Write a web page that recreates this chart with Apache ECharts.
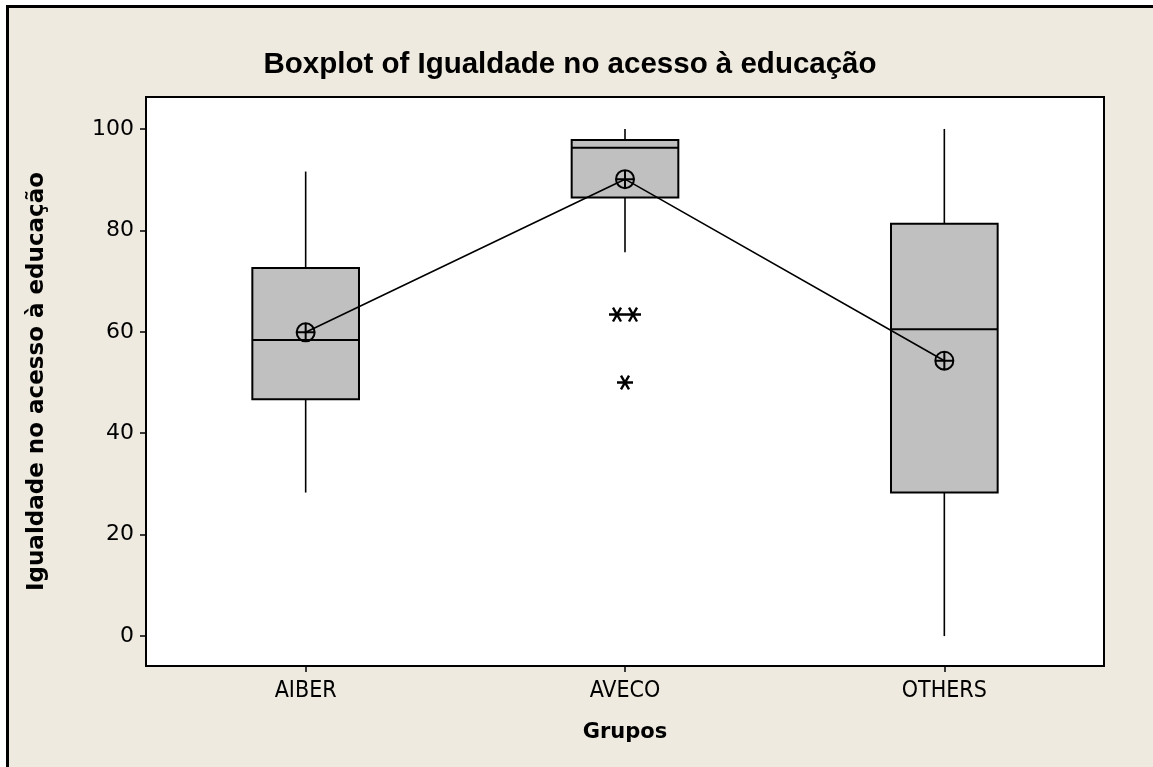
<!DOCTYPE html>
<html>
<head>
<meta charset="utf-8">
<script src="https://cdn.jsdelivr.net/npm/echarts@6/dist/echarts.min.js"></script>
<style>
html,body{margin:0;padding:0;background:#ffffff;}
#chart{width:1153px;height:767px;}
</style>
</head>
<body>
<div id="chart"></div>
<script>
const categories = ['AIBER', 'AVECO', 'OTHERS'];
const whiskerLow  = [28.3, 75.7, 0.0];
const q1          = [46.7, 86.5, 28.3];
const median      = [58.4, 96.3, 60.5];
const q3          = [72.6, 97.8, 81.3];
const whiskerHigh = [91.6, 100.0, 100.0];
const means       = [59.9, 90.1, 54.3];
const outlierGroup  = [1, 1, 1];
const outlierValues = [63.4, 63.4, 50.0];
const outlierShift  = [-8, 8, 0];
const yTicks = [0, 20, 40, 60, 80, 100];

const boxData = categories.map((c, i) => [i, whiskerLow[i], q1[i], median[i], q3[i], whiskerHigh[i]]);

function renderBox(params, api) {
  const x = api.value(0);
  const pLow = api.coord([x, api.value(1)]);
  const pQ1 = api.coord([x, api.value(2)]);
  const pMed = api.coord([x, api.value(3)]);
  const pQ3 = api.coord([x, api.value(4)]);
  const pHigh = api.coord([x, api.value(5)]);
  const bw = api.size([1, 0])[0] * 0.334;
  const cx = pMed[0];
  const lineStyle = {stroke: '#000', lineWidth: 1.6, fill: null};
  return {
    type: 'group',
    children: [
      {type: 'line', shape: {x1: cx, y1: pHigh[1], x2: cx, y2: pQ3[1]}, style: lineStyle},
      {type: 'line', shape: {x1: cx, y1: pQ1[1], x2: cx, y2: pLow[1]}, style: lineStyle},
      {type: 'rect', shape: {x: cx - bw / 2, y: pQ3[1], width: bw, height: pQ1[1] - pQ3[1]},
        style: {fill: '#C0C0C0', stroke: '#000', lineWidth: 2}},
      {type: 'line', shape: {x1: cx - bw / 2, y1: pMed[1], x2: cx + bw / 2, y2: pMed[1]},
        style: {stroke: '#000', lineWidth: 2}}
    ]
  };
}

const chart = echarts.init(document.getElementById('chart'), null, {renderer: 'canvas'});
chart.setOption({
  backgroundColor: '#ffffff',
  animation: false,
  graphic: [{
    type: 'rect', z: -10, silent: true,
    shape: {x: 7.5, y: 6.5, width: 1200, height: 800},
    style: {fill: '#EEEAE0', stroke: '#000', lineWidth: 3}
  }],
  title: {
    text: 'Boxplot of Igualdade no acesso à educação',
    left: 565, top: 45, textAlign: 'center',
    textStyle: {fontFamily: 'Liberation Sans', fontWeight: 'bold', fontSize: 29.5, color: '#000'}
  },
  grid: {
    left: 146, top: 97, right: 49, bottom: 101,
    show: true, backgroundColor: '#ffffff', borderColor: '#000', borderWidth: 2
  },
  xAxis: {
    type: 'category', data: categories, boundaryGap: true,
    axisLine: {show: false, onZero: false},
    axisTick: {show: true, alignWithLabel: true, length: 6, lineStyle: {color: '#000', width: 1.5}},
    axisLabel: {margin: 14, color: '#000', fontFamily: "'DejaVu Sans Condensed', 'Liberation Sans'", fontSize: 23},
    splitLine: {show: false},
    name: 'Grupos', nameLocation: 'middle', nameGap: 56,
    nameTextStyle: {fontFamily: 'DejaVu Sans', fontWeight: 'bold', fontSize: 21, color: '#000'}
  },
  yAxis: {
    type: 'value', min: -5.9, max: 106.3,
    axisLine: {show: false},
    axisTick: {show: true, length: 6, customValues: yTicks, lineStyle: {color: '#000', width: 1.5}},
    axisLabel: {margin: 12, color: '#000', fontFamily: 'DejaVu Sans', fontSize: 22, customValues: yTicks},
    splitLine: {show: false},
    name: 'Igualdade no acesso à educação', nameLocation: 'middle', nameGap: 97,
    nameTextStyle: {fontFamily: 'DejaVu Sans', fontWeight: 'bold', fontSize: 23, color: '#000'}
  },
  series: [
    {
      type: 'custom', renderItem: renderBox, data: boxData,
      encode: {x: 0, y: [1, 2, 3, 4, 5]}, z: 2
    },
    {
      type: 'line', data: means, z: 3,
      lineStyle: {color: '#000', width: 1.6},
      symbol: 'path://M10,0 A10,10 0 1,1 10,20 A10,10 0 1,1 10,0 Z M0,10 L20,10 M10,0 L10,20',
      symbolSize: 18, symbolKeepAspect: true,
      itemStyle: {color: 'rgba(0,0,0,0)', borderColor: '#000', borderWidth: 2}
    },
    {
      type: 'scatter', z: 3,
      data: outlierValues.map((v, i) => ({value: [outlierGroup[i], v], symbolOffset: [outlierShift[i], 0]})),
      symbol: 'path://M0,10 L20,10 M5,1.34 L15,18.66 M5,18.66 L15,1.34',
      symbolSize: 16, symbolKeepAspect: true,
      itemStyle: {color: 'rgba(0,0,0,0)', borderColor: '#000', borderWidth: 2.4, opacity: 1}
    }
  ]
});
</script>
</body>
</html>
